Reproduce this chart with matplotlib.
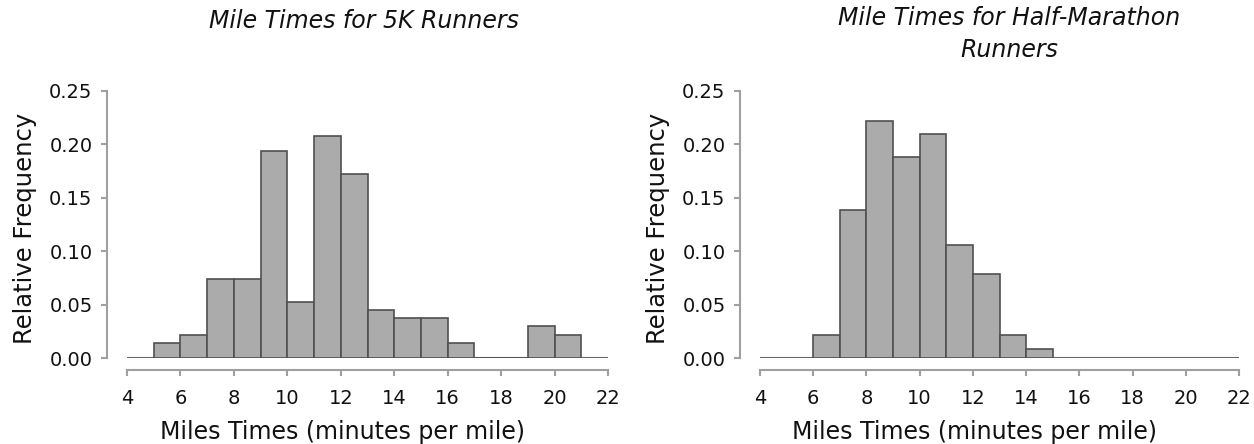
import matplotlib
matplotlib.use("Agg")
import matplotlib.pyplot as plt

plt.rcParams['font.family'] = ['DejaVu Sans']

# bin left edges (minutes per mile), one-minute bins
bins_5k = [5, 6, 7, 8, 9, 10, 11, 12, 13, 14, 15, 16, 17, 18, 19, 20]
freq_5k = [0.014, 0.022, 0.074, 0.074, 0.194, 0.052, 0.208, 0.172,
           0.045, 0.037, 0.037, 0.014, 0.0, 0.0, 0.030, 0.022]

bins_half = [6, 7, 8, 9, 10, 11, 12, 13, 14]
freq_half = [0.022, 0.139, 0.222, 0.188, 0.210, 0.106, 0.079, 0.022, 0.008]

xticks = [4, 6, 8, 10, 12, 14, 16, 18, 20, 22]
yticks = [0.00, 0.05, 0.10, 0.15, 0.20, 0.25]

titles = ["Mile Times for 5K Runners", "Mile Times for Half-Marathon\nRunners"]
xlabel = "Miles Times (minutes per mile)"
ylabel = "Relative Frequency"

fig = plt.figure(figsize=(12.54, 4.44), dpi=100)
W, H = 1254, 444

def make_ax(left_px, right_px):
    return fig.add_axes([left_px / W, (H - 358) / H,
                         (right_px - left_px) / W, (358 - 91) / H])

ax1 = make_ax(127, 608)
ax2 = make_ax(760, 1239)

# title x (axes fraction), title baseline y (axes fraction)
for ax, bins, freq, title, tx, ty in [(ax1, bins_5k, freq_5k, titles[0], 0.493, 1.236),
                                      (ax2, bins_half, freq_half, titles[1], 0.52, 1.127)]:
    ax.bar(bins, freq, width=1, align='edge', color='#ababab',
           edgecolor='#505050', linewidth=1.2, zorder=2)
    ax.axhline(0, color='#666666', linewidth=1.5, zorder=1)
    ax.set_xlim(4, 22)
    ax.set_ylim(0, 0.25)
    ax.set_xticks(xticks)
    ax.set_yticks(yticks)
    ax.set_yticklabels(["%.2f" % v for v in yticks])
    for s in ['top', 'right']:
        ax.spines[s].set_visible(False)
    ax.spines['left'].set_position(('outward', 14.5))
    ax.spines['bottom'].set_position(('outward', 8.6))
    for s in ['left', 'bottom']:
        ax.spines[s].set_color('#a0a0a0')
        ax.spines[s].set_linewidth(1.5)
    ax.tick_params(axis='both', colors='#a0a0a0', width=1.5, length=4.3,
                   labelcolor='#111111', labelsize=14)
    ax.tick_params(axis='x', pad=9.5)
    ax.tick_params(axis='y', pad=6)
    ax.set_xlabel(xlabel, fontsize=17, color='#111111')
    ax.xaxis.set_label_coords(0.447, -0.232)
    ax.set_ylabel(ylabel, fontsize=17.5, color='#111111')
    ax.yaxis.set_label_coords(-0.187, 0.487)
    ax.set_title(title, fontsize=17, style='italic', x=tx, y=ty, pad=0,
                 color='#111111', linespacing=1.4)

fig.savefig("out.png", dpi=100)
